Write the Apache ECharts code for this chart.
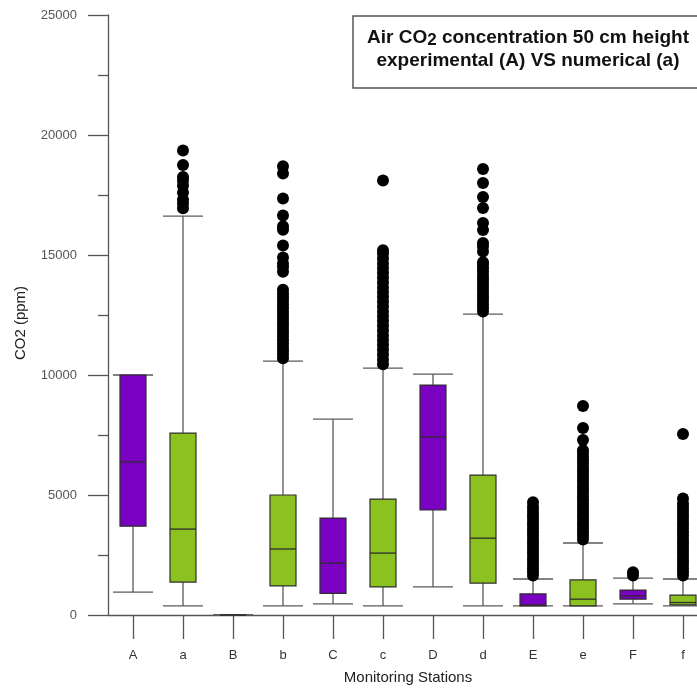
<!DOCTYPE html>
<html>
<head>
<meta charset="utf-8">
<script src="https://cdn.jsdelivr.net/npm/echarts@6/dist/echarts.min.js"></script>
<style>
html,body{margin:0;padding:0;background:#ffffff;overflow:hidden;}
#chart{width:697px;height:688px;}
</style>
</head>
<body>
<div id="chart"></div>
<script>
// ---------- data (ppm) ----------
const categories   = ['A', 'a', 'B', 'b', 'C', 'c', 'D', 'd', 'E', 'e', 'F', 'f'];
const lowerWhisker = [950,   380,  0,  380,  460,  380,  1170, 380,  380,  380,  460,  380];
const q1           = [3700,  1370, 0,  1210, 900,  1170, 4375, 1330, 380,  380,  660,  420];
const median       = [6380,  3580, 0,  2750, 2160, 2580, 7420, 3200, 420,  660,  800,  520];
const q3           = [10000, 7580, 0,  5000, 4040, 4830, 9580, 5830, 880,  1460, 1040, 830];
const upperWhisker = [10000, 16620, 0, 10580, 8160, 10290, 10040, 12540, 1500, 3000, 1540, 1500];

const outliers_A = [];
const outliers_a = [16950, 17150, 17300, 17600, 17900, 18100, 18250, 18750, 19350];
const outliers_B = [];
const outliers_b = [10700, 10850, 11000, 11150, 11300, 11450, 11600, 11750, 11900, 12050,
                    12200, 12350, 12500, 12650, 12800, 12950, 13100, 13250, 13400, 13550,
                    14300, 14500, 14650, 14900, 15400, 16050, 16200, 16650, 17350, 18400, 18700];
const outliers_C = [];
const outliers_c = [10450, 10650, 10850, 11050, 11250, 11450, 11650, 11850, 12050, 12250,
                    12450, 12650, 12850, 13050, 13250, 13450, 13650, 13850, 14050, 14250,
                    14450, 14650, 14850, 15050, 15200, 18100];
const outliers_D = [];
const outliers_d = [12650, 12800, 12950, 13100, 13250, 13400, 13550, 13700, 13850, 14000,
                    14150, 14300, 14450, 14600, 14700, 15150, 15350, 15500, 16040, 16330,
                    16960, 17420, 18000, 18580];
const outliers_E = [1650, 1800, 1950, 2100, 2250, 2400, 2550, 2700, 2850, 3000,
                    3150, 3300, 3450, 3600, 3750, 3900, 4050, 4200, 4350, 4500, 4700];
const outliers_e = [3150, 3300, 3450, 3600, 3750, 3900, 4050, 4200, 4350, 4500,
                    4650, 4800, 4950, 5100, 5250, 5400, 5550, 5700, 5850, 6000,
                    6150, 6300, 6450, 6600, 6750, 6870, 7290, 7790, 8710];
const outliers_F = [1650, 1780];
const outliers_f = [1650, 1800, 1950, 2100, 2250, 2400, 2550, 2700, 2850, 3000,
                    3150, 3300, 3450, 3600, 3750, 3900, 4050, 4200, 4350, 4500,
                    4650, 4850, 7540];

const outlierLists = [outliers_A, outliers_a, outliers_B, outliers_b, outliers_C, outliers_c,
                      outliers_D, outliers_d, outliers_E, outliers_e, outliers_F, outliers_f];

// ---------- styling ----------
const PURPLE = '#7a00c2';
const GREEN  = '#8bc220';
const AXIS   = '#555555';
const FONT   = '"Liberation Sans", Arial, Helvetica, sans-serif';

const boxData = categories.map((c, i) => [i, lowerWhisker[i], q1[i], median[i], q3[i], upperWhisker[i]]);
const outlierData = [];
outlierLists.forEach((list, i) => list.forEach(v => outlierData.push([i, v])));

function renderBox(params, api) {
  const i = api.value(0);
  const lo = api.coord([i, api.value(1)]);
  const b1 = api.coord([i, api.value(2)]);
  const md = api.coord([i, api.value(3)]);
  const b3 = api.coord([i, api.value(4)]);
  const hi = api.coord([i, api.value(5)]);
  const band = api.size([1, 0])[0];
  const bw = band * 0.52;
  const cw = band * 0.8;
  const x = lo[0];
  const upper = categories[i] === categories[i].toUpperCase();
  const fill = upper ? PURPLE : GREEN;
  const wStyle = { stroke: '#5a5a5a', lineWidth: 1.3 };
  return {
    type: 'group',
    children: [
      { type: 'line', shape: { x1: x, y1: lo[1], x2: x, y2: b1[1] }, style: wStyle },
      { type: 'line', shape: { x1: x, y1: b3[1], x2: x, y2: hi[1] }, style: wStyle },
      { type: 'line', shape: { x1: x - cw / 2, y1: lo[1], x2: x + cw / 2, y2: lo[1] }, style: wStyle },
      { type: 'line', shape: { x1: x - cw / 2, y1: hi[1], x2: x + cw / 2, y2: hi[1] }, style: wStyle },
      { type: 'rect', shape: { x: x - bw / 2, y: b3[1], width: bw, height: b1[1] - b3[1] },
        style: { fill: fill, stroke: '#2e2e2e', lineWidth: 1.2 } },
      { type: 'line', shape: { x1: x - bw / 2, y1: md[1], x2: x + bw / 2, y2: md[1] },
        style: { stroke: '#2e2e2e', lineWidth: 1.3 } }
    ]
  };
}

const chart = echarts.init(document.getElementById('chart'), null, { renderer: 'canvas' });
chart.setOption({
  animation: false,
  backgroundColor: '#ffffff',
  textStyle: { fontFamily: FONT },
  grid: { left: 108, top: 15, width: 600, height: 600, containLabel: false, outerBoundsMode: 'none' },
  xAxis: {
    type: 'category',
    data: categories,
    boundaryGap: true,
    axisLine: { show: true, lineStyle: { color: AXIS, width: 1.3 } },
    axisTick: { show: true, alignWithLabel: true, length: 24, lineStyle: { color: AXIS, width: 1.3 } },
    axisLabel: { margin: 34, fontSize: 13, color: '#333', fontFamily: FONT },
    splitLine: { show: false },
    name: 'Monitoring Stations',
    nameLocation: 'middle',
    nameGap: 55,
    nameTextStyle: { fontSize: 15, color: '#222', fontFamily: FONT }
  },
  yAxis: {
    type: 'value',
    min: 0,
    max: 25000,
    interval: 5000,
    axisLine: { show: true, lineStyle: { color: AXIS, width: 1.3 } },
    axisTick: { show: true, length: 20, lineStyle: { color: AXIS, width: 1.3 } },
    minorTick: { show: true, splitNumber: 2, length: 10, lineStyle: { color: AXIS, width: 1.3 } },
    axisLabel: { margin: 31, fontSize: 13, color: '#555', fontFamily: FONT, formatter: v => String(v) },
    splitLine: { show: false },
    minorSplitLine: { show: false },
    name: 'CO2 (ppm)',
    nameLocation: 'middle',
    nameGap: 80,
    nameRotate: 90,
    nameTextStyle: { fontSize: 15, color: '#222', fontFamily: FONT, padding: [0, 16, 0, 0] }
  },
  series: [
    {
      type: 'custom',
      name: 'box',
      renderItem: renderBox,
      data: boxData,
      encode: { x: 0, y: [1, 2, 3, 4, 5] },
      clip: false,
      z: 2
    },
    {
      type: 'scatter',
      name: 'outliers',
      data: outlierData,
      symbol: 'circle',
      symbolSize: 12,
      itemStyle: { color: '#000000', opacity: 1 },
      z: 3
    }
  ],
  graphic: [
    {
      type: 'rect',
      shape: { x: 353, y: 16, width: 400, height: 72 },
      style: { fill: '#ffffff', stroke: '#555555', lineWidth: 1.5 },
      z: 10
    },
    {
      type: 'text',
      x: 528,
      y: 49,
      z: 11,
      style: {
        text: '{b|Air CO}{s|2}{b| concentration 50 cm height}\n{b|experimental (A) VS numerical (a)}',
        align: 'center',
        verticalAlign: 'middle',
        rich: {
          b: { fontSize: 19, fontWeight: 'bold', fontFamily: FONT, fill: '#111', lineHeight: 23, verticalAlign: 'middle' },
          s: { fontSize: 17, fontWeight: 'bold', fontFamily: FONT, fill: '#111', lineHeight: 14, verticalAlign: 'bottom' }
        }
      }
    }
  ]
});
</script>
</body>
</html>
